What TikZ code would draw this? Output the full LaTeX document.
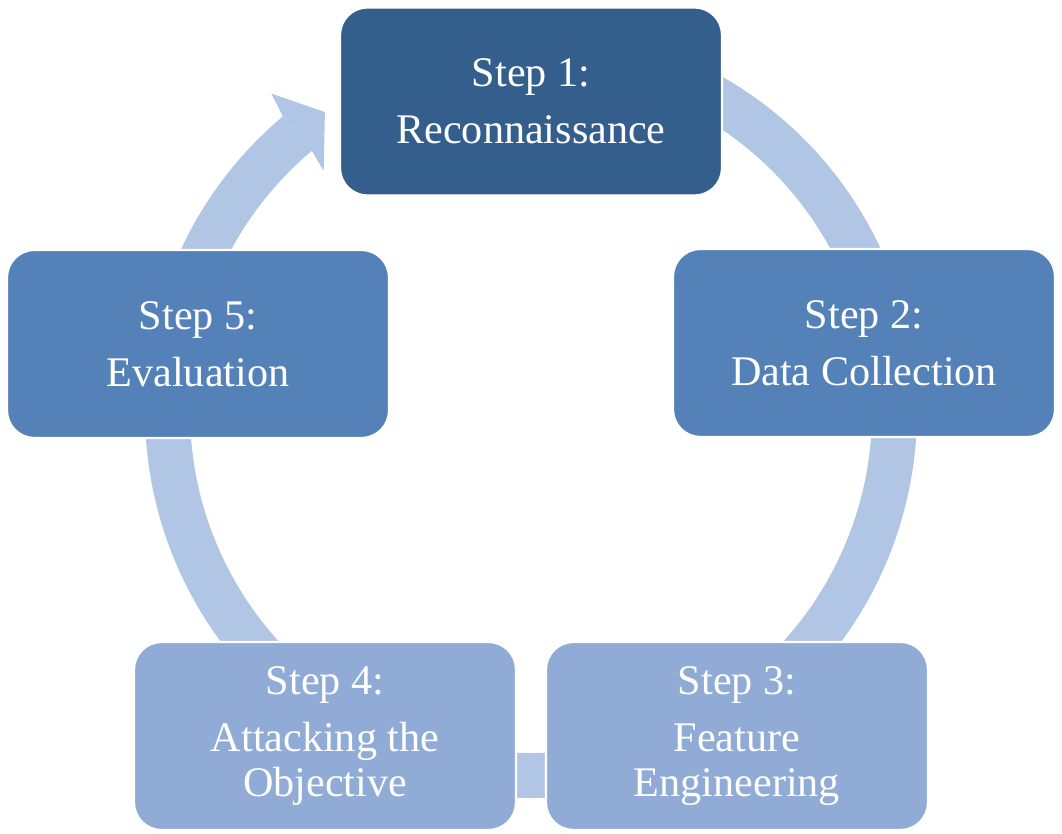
\documentclass[tikz,border=0pt]{standalone}
\usepackage{fontspec}
\setmainfont{Liberation Serif}
\definecolor{stepdark}{HTML}{345E8C}
\definecolor{stepmid}{HTML}{5581B9}
\definecolor{steplight}{HTML}{8FABD6}
\definecolor{ringblue}{HTML}{B0C6E4}

\begin{document}
\begin{tikzpicture}[x=0.02cm, y=0.02cm,
    stepbox/.style={rectangle, rounded corners=0.55cm, draw=white, line width=1.2pt,
      minimum width=7.64cm, minimum height=3.76cm, align=center, text=white,
      font=\fontsize{24}{25.5}\selectfont},
    ring/.style={draw=ringblue, line width=0.9cm}]
  \useasboundingbox (0,0) rectangle (1062,834);
  \coordinate (ctr) at (531,422);

  % ring and arrow head
  \draw[ring] (ctr) ++(115:7.27cm) arc[start angle=115, end angle=-230, radius=7.27cm];
  \fill[ringblue, shift={(ctr)}] (130:7.72cm) -- (129.2:8.22cm) -- (124.5:7.28cm)
    -- (130.7:6.36cm) -- (130:6.82cm) -- cycle;

  \node[stepbox, fill=stepdark] (s1) at (531,732.5) {Step 1:\\[7pt]Reconnaissance};
  \node[stepbox, fill=stepmid] (s2) at (864,491) {Step 2:\\[7pt]Data Collection};
  \node[stepbox, fill=steplight] (s3) at (737,98) {Step 3:\\[7pt]Feature\\Engineering};
  \node[stepbox, fill=steplight] (s4) at (325,98) {Step 4:\\[7pt]Attacking the\\Objective};
  \node[stepbox, fill=stepmid] (s5) at (198,490) {Step 5:\\[7pt]Evaluation};
\end{tikzpicture}
\end{document}
